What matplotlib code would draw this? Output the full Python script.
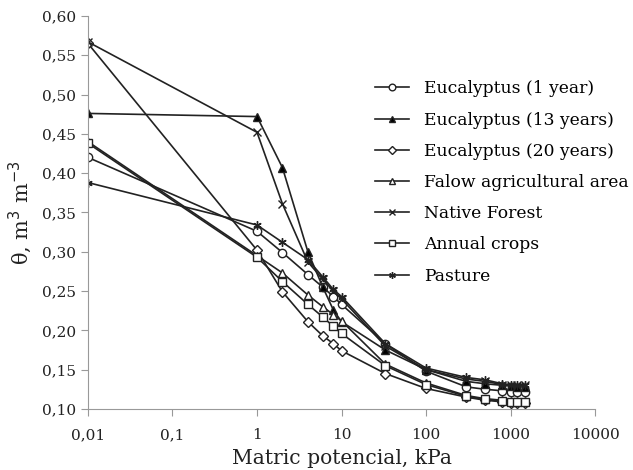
import numpy as np
import matplotlib
matplotlib.use('Agg')
import matplotlib.pyplot as plt

plt.rcParams['font.family'] = ['DejaVu Serif']

# matric potential, kPa
potential = [0.01, 1, 2, 4, 6, 8, 10, 33, 100, 300, 500, 800, 1000, 1200, 1500]

euc_1 = [0.420, 0.326, 0.299, 0.271, 0.255, 0.243, 0.233, 0.183, 0.148, 0.128, 0.125, 0.123, 0.122, 0.122, 0.122]
euc_13 = [0.476, 0.472, 0.407, 0.300, 0.255, 0.226, 0.211, 0.175, 0.150, 0.135, 0.132, 0.130, 0.129, 0.128, 0.128]
euc_20 = [0.565, 0.302, 0.249, 0.211, 0.193, 0.183, 0.174, 0.145, 0.126, 0.115, 0.111, 0.109, 0.108, 0.108, 0.107]
falow = [0.440, 0.295, 0.273, 0.245, 0.230, 0.220, 0.212, 0.157, 0.133, 0.117, 0.113, 0.111, 0.110, 0.110, 0.110]
native = [0.567, 0.452, 0.361, 0.287, 0.265, 0.250, 0.240, 0.180, 0.150, 0.138, 0.135, 0.131, 0.130, 0.130, 0.130]
annual = [0.438, 0.293, 0.262, 0.233, 0.217, 0.205, 0.196, 0.155, 0.131, 0.116, 0.112, 0.110, 0.109, 0.109, 0.109]
pasture = [0.388, 0.334, 0.312, 0.290, 0.268, 0.252, 0.243, 0.183, 0.152, 0.140, 0.137, 0.132, 0.131, 0.131, 0.131]

series = [
    ('Eucalyptus (1 year)', euc_1, 'o', 'white'),
    ('Eucalyptus (13 years)', euc_13, '^', 'black'),
    ('Eucalyptus (20 years)', euc_20, 'D', 'white'),
    ('Falow agricultural area', falow, '^', 'white'),
    ('Native Forest', native, 'x', 'black'),
    ('Annual crops', annual, 's', 'white'),
    ('Pasture', pasture, (6, 2, 0), 'black'),
]

fig = plt.figure(figsize=(6.33, 4.70), dpi=100)
ax = fig.add_axes([0.139, 0.130, 0.801, 0.836])

for name, vals, mk, fc in series:
    ms = 5 if mk == 'D' else 6
    ax.plot(potential, vals, color='#222222', linewidth=1.2, marker=mk,
            markersize=ms, markerfacecolor=fc, markeredgecolor='#222222',
            markeredgewidth=1.0, label=name)

ax.set_xscale('log')
ax.set_xlim(0.01, 10000)
ax.set_ylim(0.10, 0.60)
ax.set_xticks([0.01, 0.1, 1, 10, 100, 1000, 10000])
ax.set_xticklabels(['0,01', '0,1', '1', '10', '100', '1000', '10000'])
ax.xaxis.set_minor_locator(matplotlib.ticker.NullLocator())
yt = np.arange(0.10, 0.601, 0.05)
ax.set_yticks(yt)
ax.set_yticklabels([f'{v:.2f}'.replace('.', ',') for v in yt])

for side in ['top', 'right']:
    ax.spines[side].set_visible(False)
for side in ['left', 'bottom']:
    ax.spines[side].set_color('#999999')
ax.tick_params(axis='both', colors='#999999', labelcolor='#222222',
               labelsize=11, length=5, direction='out')
ax.tick_params(axis='x', pad=9)

ax.set_xlabel('Matric potencial, kPa', fontsize=14.6, color='#222222', labelpad=5)
ax.set_ylabel(r'θ, m$^3$ m$^{-3}$', fontsize=15, color='#222222', labelpad=6)

ax.legend(loc='upper left', bbox_to_anchor=(0.535, 0.875), frameon=False,
          fontsize=12.3, handlelength=2.0, handletextpad=0.9,
          labelspacing=0.83, markerscale=0.8)

fig.savefig('out.png', dpi=100)
